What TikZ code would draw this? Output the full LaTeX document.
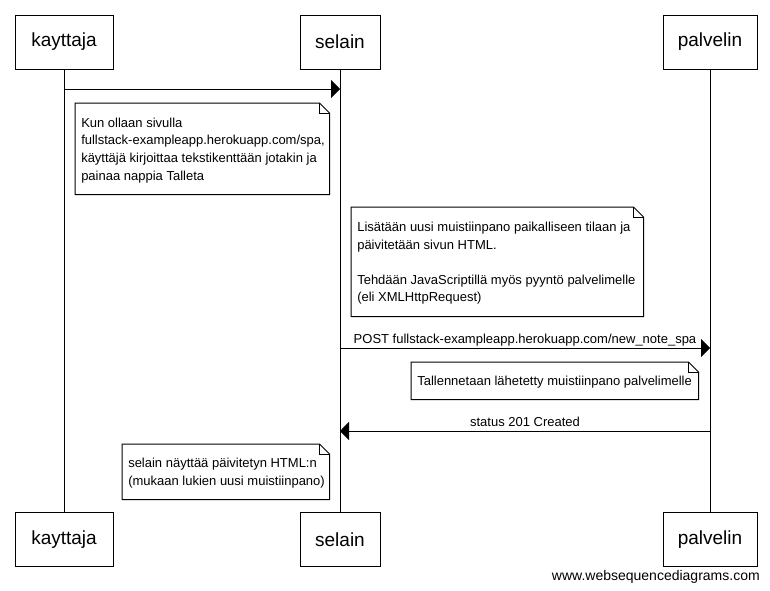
\documentclass[tikz,border=0pt]{standalone}
\usepackage{fontspec}
\setmainfont{Liberation Sans}
\usetikzlibrary{arrows.meta,calc}
\newcommand\foldnote[1]{%
  \draw[notefold] (#1.north west) -- ([xshift=-7.5pt]#1.north east) -- ([yshift=-7.5pt]#1.north east) -- (#1.south east) -- (#1.south west) -- cycle;
  \draw[notefold, line width=0.5pt] ([xshift=-7.5pt]#1.north east) |- ([yshift=-7.5pt]#1.north east);}
\begin{document}
\begin{tikzpicture}[x=0.75pt,y=-0.75pt,
  actor/.style={draw, line width=0.75pt, fill=white, font=\fontsize{14.25pt}{17pt}\selectfont, inner sep=0pt, minimum height=40.5pt},
  life/.style={line width=0.75pt},
  msg/.style={line width=0.75pt, -{Triangle[length=6.75pt,width=13.5pt]}},
  lbl/.style={font=\fontsize{9.75pt}{12pt}\selectfont, inner sep=0pt},
  notearea/.style={inner sep=0pt, draw=none, fill=white},
  notetxt/.style={font=\fontsize{9.75pt}{13.2pt}\selectfont, align=left, inner sep=0pt, anchor=west},
  notefold/.style={line width=0.75pt}
]
\useasboundingbox (0,0) rectangle (770,590);
\fill[white] (0,0) rectangle (770,590);

% actors
\node[actor, minimum width=73.5pt] (ktop) at (64,42) {kayttaja};
\node[actor, minimum width=60pt]   (stop) at (340,42) {selain};
\node[actor, minimum width=70.5pt] (ptop) at (710,42) {palvelin};
\node[actor, minimum width=73.5pt] (kbot) at (64,539.5) {kayttaja};
\node[actor, minimum width=60pt]   (sbot) at (340,539.5) {selain};
\node[actor, minimum width=70.5pt] (pbot) at (710,539.5) {palvelin};

% lifelines
\draw[life] (ktop) -- (kbot);
\draw[life] (stop) -- (sbot);
\draw[life] (ptop) -- (pbot);

% messages
\coordinate (m1a) at (ktop |- 0,89);
\coordinate (m1b) at (stop |- 0,89);
\draw[msg] (m1a) -- (m1b);

\coordinate (m2a) at (stop |- 0,348);
\coordinate (m2b) at (ptop |- 0,348);
\draw[msg] (m2a) -- (m2b) node[lbl, midway, yshift=6pt] (l2) {POST fullstack-exampleapp.herokuapp.com/new\_note\_spa};

\coordinate (m3a) at (ptop |- 0,431);
\coordinate (m3b) at (stop |- 0,431);
\draw[msg] (m3a) -- (m3b) node[lbl, midway, yshift=6.75pt] (l3) {status 201 Created};

% notes
\node[notearea, minimum width=190.5pt, minimum height=68.25pt, anchor=north west] (n1) at (75,103) {};
\foldnote{n1}
\node[notetxt] (n1t) at ([xshift=4.5pt,yshift=-1.1pt]n1.west) {Kun ollaan sivulla\\fullstack-exampleapp.herokuapp.com/spa,\\käyttäjä kirjoittaa tekstikenttään jotakin ja\\painaa nappia Talleta};

\node[notearea, minimum width=219pt, minimum height=81.75pt, anchor=north west] (n2) at (351,207) {};
\foldnote{n2}
\node[notetxt] (n2t) at ([xshift=4.5pt,yshift=-1.1pt]n2.west) {Lisätään uusi muistiinpano paikalliseen tilaan ja\\päivitetään sivun HTML.\\[13.2pt]Tehdään JavaScriptillä myös pyyntö palvelimelle\\(eli XMLHttpRequest)};

\node[notearea, minimum width=215.25pt, minimum height=27.75pt, anchor=north west] (n3) at (411,362) {};
\foldnote{n3}
\node[notetxt] (n3t) at ([xshift=4.5pt,yshift=-0.8pt]n3.west) {Tallennetaan lähetetty muistiinpano palvelimelle};

\node[notearea, minimum width=155.25pt, minimum height=41.25pt, anchor=north west] (n4) at (122,444) {};
\foldnote{n4}
\node[notetxt] (n4t) at ([xshift=4.5pt,yshift=-1.1pt]n4.west) {selain näyttää päivitetyn HTML:n\\(mukaan lukien uusi muistiinpano)};

% watermark
\node[font=\fontsize{10.5pt}{12pt}\selectfont, inner sep=0pt, anchor=base east] (wm) at (760,580) {www.websequencediagrams.com};
\end{tikzpicture}
\end{document}
